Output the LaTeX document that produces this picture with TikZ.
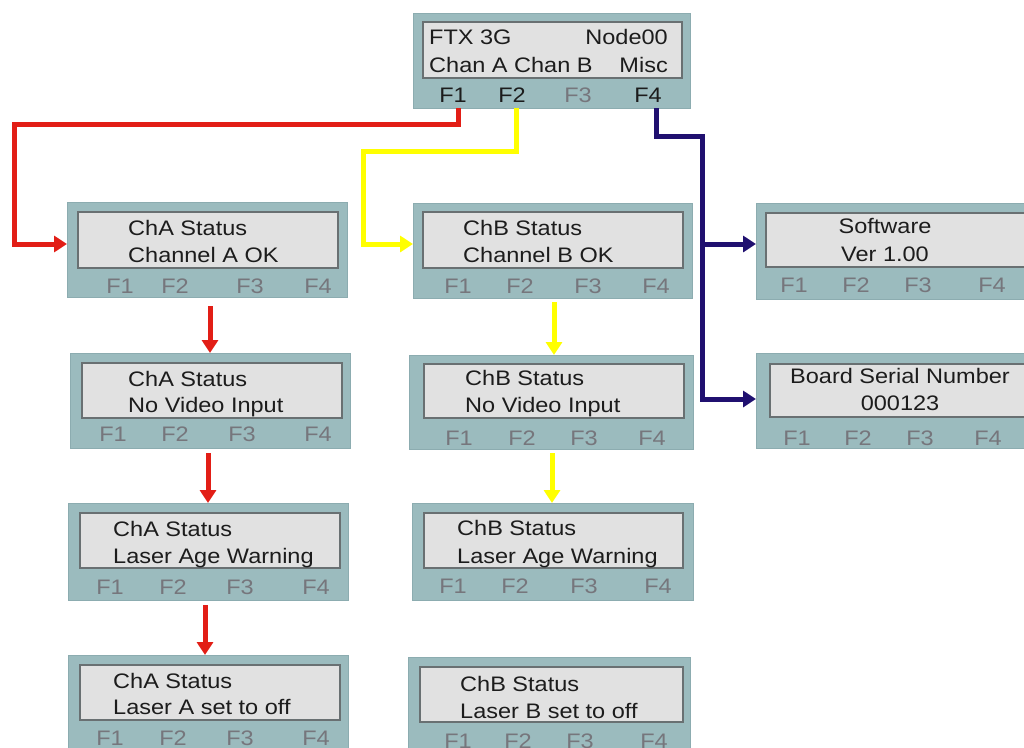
\documentclass[tikz,border=0pt]{standalone}
\usepackage{fontspec}
\setmainfont{Liberation Sans}[FakeStretch=1.12]
\usetikzlibrary{arrows.meta}
\definecolor{panel}{RGB}{155,187,190}
\definecolor{panelb}{RGB}{140,172,176}
\definecolor{screen}{RGB}{225,225,225}
\definecolor{screenb}{RGB}{105,112,114}
\definecolor{keygray}{RGB}{118,118,124}
\definecolor{txt}{RGB}{28,28,28}
\definecolor{cred}{RGB}{226,30,22}
\definecolor{cyel}{RGB}{255,255,0}
\definecolor{cnavy}{RGB}{32,16,112}
\newcommand\fkeys[6]{%
  \node[fkey] (#1f1) at (#3,#2) {F1};
  \node[fkey] (#1f2) at (#4,#2) {F2};
  \node[fkey] (#1f3) at (#5,#2) {F3};
  \node[fkey] (#1f4) at (#6,#2) {F4};}
\begin{document}
\begin{tikzpicture}[x=1pt,y=-1pt,
  font=\fontsize{21}{25}\selectfont,
  outerbox/.style={rectangle, fill=panel, draw=panelb, line width=1pt, inner sep=0pt, outer sep=0pt},
  screenbox/.style={rectangle, fill=screen, draw=screenb, line width=1.3pt, inner sep=0pt, outer sep=0pt},
  ltxt/.style={anchor=base west, inner sep=0pt, text=txt},
  rtxt/.style={anchor=base east, inner sep=0pt, text=txt},
  ctxt/.style={anchor=base, inner sep=0pt, text=txt},
  fkey/.style={anchor=base, inner sep=0pt, text=keygray},
  fkeydark/.style={anchor=base, inner sep=0pt, text=txt},
  wire/.style={line width=5pt, line join=miter},
  tipped/.style={wire, -{Triangle[length=13pt,width=16pt]}}]
\useasboundingbox (0,0) rectangle (1024,747);
\clip (0,0) rectangle (1024,747);

% top panel
\node[outerbox, minimum width=277, minimum height=95] (top) at (551.5,60.5) {};
\node[screenbox, minimum width=259, minimum height=56] (tops) at (552.5,50) {};
\node[ltxt] (topt1) at (429,44) {FTX 3G};
\node[rtxt] (topt2) at (668,44) {Node00};
\node[ltxt] (topt3) at (429,72) {Chan A Chan B};
\node[rtxt] (topt4) at (668,72) {Misc};
\node[fkeydark] (topf1) at (453,102) {F1};
\node[fkeydark] (topf2) at (512,102) {F2};
\node[fkey] (topf3) at (578,102) {F3};
\node[fkeydark] (topf4) at (648,102) {F4};

% channel A column
\node[outerbox, minimum width=280, minimum height=95] (a1) at (207,249.5) {};
\node[screenbox, minimum width=260, minimum height=56] (a1s) at (208,240) {};
\node[ltxt] (a1t1) at (128,235) {ChA Status};
\node[ltxt] (a1t2) at (128,262) {Channel A OK};
\fkeys{a1}{293}{120}{175}{250}{318}

\node[outerbox, minimum width=280, minimum height=95] (a2) at (210,400.5) {};
\node[screenbox, minimum width=260, minimum height=55] (a2s) at (212,390.5) {};
\node[ltxt] (a2t1) at (128,386) {ChA Status};
\node[ltxt] (a2t2) at (128,412) {No Video Input};
\fkeys{a2}{441}{113}{175}{242}{318}

\node[outerbox, minimum width=280, minimum height=97] (a3) at (208,551.5) {};
\node[screenbox, minimum width=260, minimum height=55] (a3s) at (210,540.5) {};
\node[ltxt] (a3t1) at (113,536) {ChA Status};
\node[ltxt] (a3t2) at (113,563) {Laser Age Warning};
\fkeys{a3}{594}{110}{173}{240}{316}

\node[outerbox, minimum width=280, minimum height=105] (a4) at (208,707.5) {};
\node[screenbox, minimum width=260, minimum height=55] (a4s) at (210,692.5) {};
\node[ltxt] (a4t1) at (113,688) {ChA Status};
\node[ltxt] (a4t2) at (113,714) {Laser A set to off};
\fkeys{a4}{745}{110}{173}{240}{316}

% channel B column
\node[outerbox, minimum width=279, minimum height=95] (b1) at (552.5,250.5) {};
\node[screenbox, minimum width=260, minimum height=56] (b1s) at (553,240) {};
\node[ltxt] (b1t1) at (463,235) {ChB Status};
\node[ltxt] (b1t2) at (463,262) {Channel B OK};
\fkeys{b1}{293}{458}{520}{588}{656}

\node[outerbox, minimum width=284, minimum height=94] (b2) at (551,402) {};
\node[screenbox, minimum width=260, minimum height=54] (b2s) at (554,391) {};
\node[ltxt] (b2t1) at (465,385) {ChB Status};
\node[ltxt] (b2t2) at (465,412) {No Video Input};
\fkeys{b2}{445}{459}{522}{584}{652}

\node[outerbox, minimum width=281, minimum height=97] (b3) at (552.5,551.5) {};
\node[screenbox, minimum width=259, minimum height=55] (b3s) at (553.5,540.5) {};
\node[ltxt] (b3t1) at (457,535) {ChB Status};
\node[ltxt] (b3t2) at (457,563) {Laser Age Warning};
\fkeys{b3}{593}{453}{515}{584}{658}

\node[outerbox, minimum width=282, minimum height=103] (b4) at (549,708.5) {};
\node[screenbox, minimum width=263, minimum height=55] (b4s) at (551.5,694.5) {};
\node[ltxt] (b4t1) at (460,691) {ChB Status};
\node[ltxt] (b4t2) at (460,718) {Laser B set to off};
\fkeys{b4}{748}{458}{518}{580}{654}

% misc column
\node[outerbox, minimum width=274, minimum height=96] (sw) at (893,251) {};
\node[screenbox, minimum width=269, minimum height=54] (sws) at (900.5,240) {};
\node[ctxt] (swt1) at (885,233) {Software};
\node[ctxt] (swt2) at (885,261) {Ver 1.00};
\fkeys{sw}{292}{794}{856}{918}{992}

\node[outerbox, minimum width=274, minimum height=95] (bs) at (893,400.5) {};
\node[screenbox, minimum width=265, minimum height=53] (bss) at (902.5,390.5) {};
\node[ctxt] (bst1) at (900,383) {Board Serial Number};
\node[ctxt] (bst2) at (900,410) {000123};
\fkeys{bs}{445}{797}{858}{920}{988}

% connector coordinates
\coordinate (rs) at (458,108);
\coordinate (ys) at (516,108);
\coordinate (ns) at (656,108);
\coordinate (nj) at (702,244);

% red route
\draw[tipped, cred] (rs) -- (458,124) -- (14,124) -- (14,244) -- (a1.west |- 0,244);
\draw[tipped, cred] (210,306) -- (a2.north -| 210,0);
\draw[tipped, cred] (208,453) -- (a3.north -| 208,0);
\draw[tipped, cred] (205,605) -- (a4.north -| 205,0);

% yellow route
\draw[tipped, cyel] (ys) -- (516,151) -- (363,151) -- (363,244) -- (b1.west |- 0,244);
\draw[tipped, cyel] (554,302) -- (b2.north -| 554,0);
\draw[tipped, cyel] (552,453) -- (b3.north -| 552,0);

% navy route
\draw[tipped, cnavy] (ns) -- (656,136) -- (702,136) -- (702,399) -- (bs.west |- 0,399);
\draw[tipped, cnavy] (nj) -- (sw.west |- 0,244);
\end{tikzpicture}
\end{document}
